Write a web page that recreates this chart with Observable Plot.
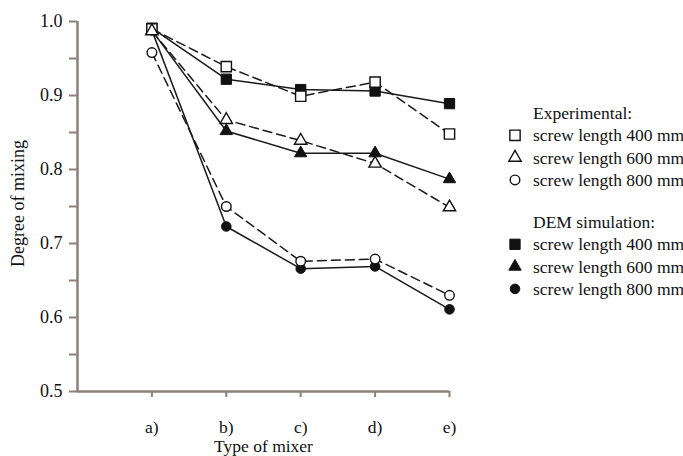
<!DOCTYPE html>
<html>
<head>
<meta charset="utf-8">
<script src="https://cdn.jsdelivr.net/npm/d3@7"></script>
<script src="https://cdn.jsdelivr.net/npm/@observablehq/plot@0.6"></script>
<style>
  body { margin: 0; background: #fff; }
  #wrap { position: relative; width: 683px; height: 456px; font-family: "Liberation Serif", "DejaVu Serif", serif; }
  #legend { position: absolute; left: 0; top: 0; }
</style>
</head>
<body>
<div id="wrap"></div>
<script>
// ---- data ----
const mixers = ["a)", "b)", "c)", "d)", "e)"];
const exp400 = [0.990, 0.939, 0.899, 0.918, 0.848];
const exp600 = [0.987, 0.867, 0.839, 0.808, 0.749];
const exp800 = [0.958, 0.750, 0.676, 0.679, 0.630];
const dem400 = [0.991, 0.922, 0.908, 0.906, 0.889];
const dem600 = [0.988, 0.852, 0.822, 0.822, 0.787];
const dem800 = [0.988, 0.723, 0.666, 0.669, 0.611];
const yMajor = [0.5, 0.6, 0.7, 0.8, 0.9, 1.0];
const yMinor = [0.55, 0.65, 0.75, 0.85, 0.95];

const seriesDefs = [
  {name: "exp400", values: exp400, kind: "exp", symbol: "square", label: "screw length 400 mm"},
  {name: "exp600", values: exp600, kind: "exp", symbol: "triangle", label: "screw length 600 mm"},
  {name: "exp800", values: exp800, kind: "exp", symbol: "circle", label: "screw length 800 mm"},
  {name: "dem400", values: dem400, kind: "dem", symbol: "square", label: "screw length 400 mm"},
  {name: "dem600", values: dem600, kind: "dem", symbol: "triangle", label: "screw length 600 mm"},
  {name: "dem800", values: dem800, kind: "dem", symbol: "circle", label: "screw length 800 mm"}
];
const rows = seriesDefs.flatMap(s => s.values.map((v, i) => ({series: s.name, kind: s.kind, symbol: s.symbol, i: i + 1, v})));
const expRows = rows.filter(d => d.kind === "exp");
const demRows = rows.filter(d => d.kind === "dem");
const symR = {square: 5.8, triangle: 4.6, circle: 4.8};

const axisColor = "#8b807b";
const FS = 17.5;

const chart = Plot.plot({
  width: 683,
  height: 456,
  marginLeft: 77,
  marginRight: 234,
  marginTop: 21,
  marginBottom: 65,
  style: {fontFamily: "Liberation Serif, serif", fontSize: FS + "px", color: "#111", background: "white"},
  x: {domain: [0, 5], axis: null},
  y: {domain: [0.5, 1.0], axis: null},
  marks: [
    Plot.axisY({ticks: yMinor, tickSize: 8, stroke: axisColor, strokeWidth: 2, tickFormat: () => "", label: null}),
    Plot.axisY({ticks: yMajor, tickSize: 8, tickPadding: 7, stroke: axisColor, strokeWidth: 2, fill: "#111", fontSize: 18, tickFormat: d3.format(".1f"), label: null}),
    Plot.axisX({ticks: [1, 2, 3, 4, 5], tickSize: 6, tickPadding: 23, stroke: axisColor, strokeWidth: 2, fill: "#111", fontSize: FS, tickFormat: d => mixers[d - 1], label: null}),
    Plot.ruleX([0], {stroke: axisColor, strokeWidth: 2.5}),
    Plot.ruleY([0.5], {stroke: axisColor, strokeWidth: 2.5}),
    Plot.text(["Degree of mixing"], {text: d => d, frameAnchor: "left", textAnchor: "middle", lineAnchor: "middle", dx: -59, dy: -3, rotate: -90, fontSize: 18, fill: "#111"}),
    Plot.text(["Type of mixer"], {text: d => d, frameAnchor: "bottom", textAnchor: "middle", lineAnchor: "middle", dy: 55, fontSize: FS, fill: "#111"}),
    Plot.line(demRows, {x: "i", y: "v", z: "series", stroke: "#1a1a1a", strokeWidth: 1.5}),
    Plot.line(expRows, {x: "i", y: "v", z: "series", stroke: "#1a1a1a", strokeWidth: 1.5, strokeDasharray: "9,5"}),
    ...["square", "triangle", "circle"].map(sym =>
      Plot.dot(demRows.filter(d => d.symbol === sym), {x: "i", y: "v", symbol: sym, r: symR[sym], fill: "#111", stroke: "#111", strokeWidth: 1})
    ),
    ...["square", "triangle", "circle"].map(sym =>
      Plot.dot(expRows.filter(d => d.symbol === sym), {x: "i", y: "v", symbol: sym, r: symR[sym], fill: "white", stroke: "#111", strokeWidth: 1.4})
    )
  ]
});
document.getElementById("wrap").appendChild(chart);

// ---- legend (overlay) ----
const lg = d3.select("#wrap").append("svg")
  .attr("id", "legend").attr("width", 683).attr("height", 456)
  .style("font-family", "Liberation Serif, serif").style("font-size", FS + "px");
const symMap = {square: d3.symbolSquare, triangle: d3.symbolTriangle, circle: d3.symbolCircle};
const groups = [
  {title: "Experimental:", kind: "exp", y0: 113},
  {title: "DEM simulation:", kind: "dem", y0: 222}
];
groups.forEach(g => {
  lg.append("text").attr("x", 533).attr("y", g.y0).attr("dy", "0.35em").attr("fill", "#111").text(g.title);
  seriesDefs.filter(s => s.kind === g.kind).forEach((s, k) => {
    const y = g.y0 + 22.3 * (k + 1);
    const r = symR[s.symbol];
    lg.append("path")
      .attr("transform", `translate(515,${y})`)
      .attr("d", d3.symbol(symMap[s.symbol], Math.PI * r * r)())
      .attr("fill", g.kind === "exp" ? "white" : "#111")
      .attr("stroke", "#111").attr("stroke-width", g.kind === "exp" ? 1.4 : 1);
    lg.append("text").attr("x", 533).attr("y", y).attr("dy", "0.35em").attr("fill", "#111").text(s.label);
  });
});
</script>
</body>
</html>
